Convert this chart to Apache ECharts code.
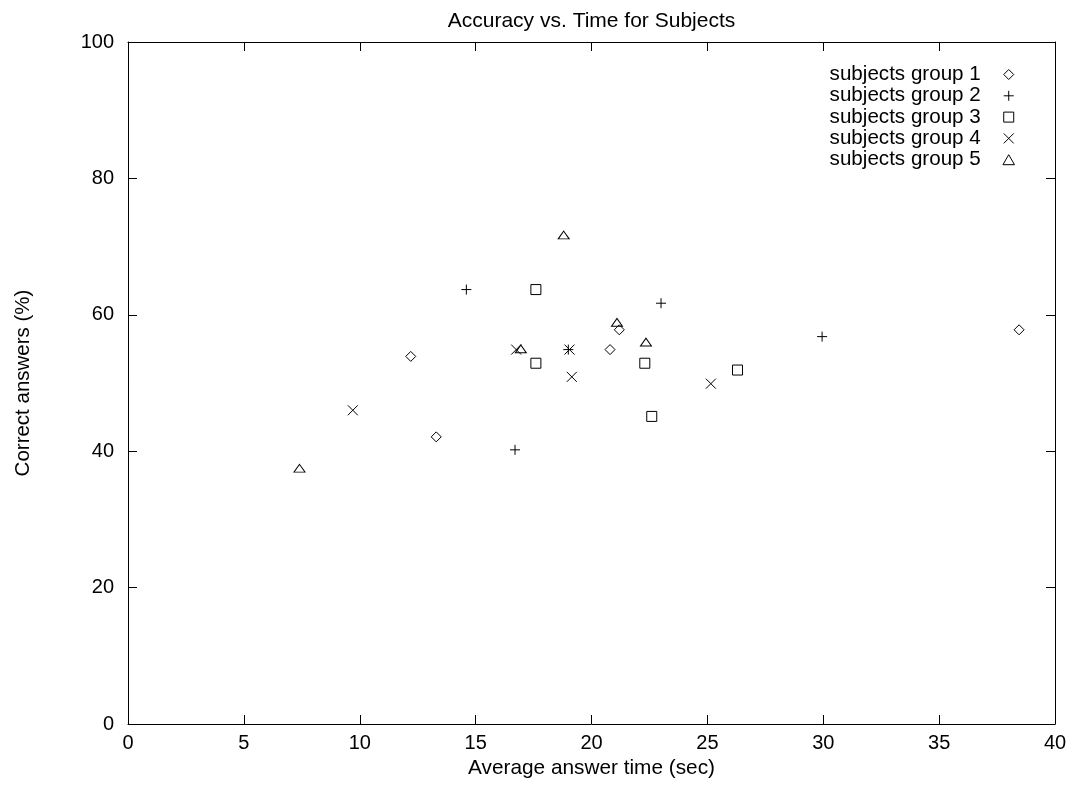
<!DOCTYPE html>
<html>
<head>
<meta charset="utf-8">
<title>Accuracy vs. Time for Subjects</title>
<script src="https://cdn.jsdelivr.net/npm/echarts@6/dist/echarts.min.js"></script>
<style>
  html, body { margin: 0; padding: 0; background: #fff; }
  #container { width: 1075px; height: 785px; }
</style>
</head>
<body>
<div id="container"></div>
<script>
// data
var groupNames = ['subjects group 1', 'subjects group 2', 'subjects group 3', 'subjects group 4', 'subjects group 5'];

var g1Time = [12.2, 13.3, 20.8, 21.2, 38.45];
var g1Acc  = [53.9, 42.1, 54.9, 57.8, 57.8];

var g2Time = [14.6, 16.7, 19.0, 23.0, 29.95];
var g2Acc  = [63.7, 40.2, 54.9, 61.7, 56.8];

var g3Time = [17.6, 17.6, 22.3, 22.6, 26.3];
var g3Acc  = [63.7, 52.9, 52.9, 45.1, 51.9];

var g4Time = [9.7, 16.75, 19.05, 19.15, 25.15];
var g4Acc  = [46.0, 54.9, 54.9, 50.9, 49.9];

var g5Time = [7.4, 16.95, 18.8, 21.1, 22.35];
var g5Acc  = [37.5, 55.0, 71.7, 58.9, 56.0];

var xTicks = [0, 5, 10, 15, 20, 25, 30, 35, 40];
var yTicks = [0, 20, 40, 60, 80, 100];

var FONT = 'Liberation Sans, Arial, Helvetica, sans-serif';

// gnuplot style point types
var symbols = [
	'path://M5,0 L10,5 L5,10 L0,5 Z',
	'path://M0,5 L10,5 M5,0 L5,10',
	'path://M0,0 L10,0 L10,10 L0,10 Z',
	'path://M0,0 L10,10 M10,0 L0,10',
	'path://M5,0 L10,8.66 L0,8.66 Z'
];
var sizes = [[10, 10], [10, 10], [10, 10], [10, 10], [11, 9]];

function zip(xs, ys) {
	var out = [];
	for (var i = 0; i < xs.length; i++) {
		out.push([xs[i], ys[i]]);
	}
	return out;
}

var allData = [zip(g1Time, g1Acc), zip(g2Time, g2Acc), zip(g3Time, g3Acc), zip(g4Time, g4Acc), zip(g5Time, g5Acc)];

var myChart = echarts.init(document.getElementById('container'));

var series = [];
for (var i = 0; i < groupNames.length; i++) {
	series.push({
		name: groupNames[i],
		type: 'scatter',
		xAxisIndex: 0,
		yAxisIndex: 0,
		data: allData[i],
		symbol: symbols[i],
		symbolSize: sizes[i],
		symbolKeepAspect: true,
		itemStyle: {
			color: 'rgba(0,0,0,0)',
			borderColor: '#000',
			borderWidth: 1,
			opacity: 1
		},
		emphasis: { disabled: true }
	});
}

var tickStyle = { show: true, inside: true, length: 9, lineStyle: { color: '#000', width: 1 } };
var lineStyle = { show: true, onZero: false, lineStyle: { color: '#000', width: 1 } };

var option = {
	animation: false,
	backgroundColor: '#fff',
	title: {
		text: 'Accuracy vs. Time for Subjects',
		left: 591.5,
		top: 11,
		padding: 0,
		textAlign: 'center',
		textStyle: { fontFamily: FONT, fontSize: 21, fontWeight: 'normal', color: '#000' }
	},
	legend: {
		orient: 'vertical',
		right: 60,
		top: 64,
		padding: 0,
		align: 'right',
		itemWidth: 46,
		itemHeight: 10,
		itemGap: 0.3,
		selectedMode: false,
		itemStyle: { borderWidth: 1 },
		textStyle: { fontFamily: FONT, fontSize: 20.6, color: '#000', lineHeight: 21 },
		data: groupNames
	},
	grid: {
		left: 128,
		right: 20,
		top: 42,
		bottom: 61,
		containLabel: false,
		outerBoundsMode: 'none'
	},
	xAxis: [{
		type: 'value',
		position: 'bottom',
		min: xTicks[0],
		max: xTicks[xTicks.length - 1],
		interval: 5,
		name: 'Average answer time (sec)',
		nameLocation: 'middle',
		nameGap: 31,
		nameTextStyle: { fontFamily: FONT, fontSize: 20.8, color: '#000' },
		axisLine: lineStyle,
		axisTick: tickStyle,
		axisLabel: { fontFamily: FONT, fontSize: 20, color: '#000', margin: 9 },
		splitLine: { show: false }
	}, {
		type: 'value',
		position: 'top',
		min: xTicks[0],
		max: xTicks[xTicks.length - 1],
		interval: 5,
		axisLine: lineStyle,
		axisTick: tickStyle,
		axisLabel: { show: false },
		splitLine: { show: false }
	}],
	yAxis: [{
		type: 'value',
		position: 'left',
		min: yTicks[0],
		max: yTicks[yTicks.length - 1],
		interval: 20,
		name: 'Correct answers (%)',
		nameLocation: 'middle',
		nameGap: 94,
		nameTextStyle: { fontFamily: FONT, fontSize: 20.5, color: '#000' },
		axisLine: lineStyle,
		axisTick: tickStyle,
		axisLabel: { fontFamily: FONT, fontSize: 20, color: '#000', margin: 14 },
		splitLine: { show: false }
	}, {
		type: 'value',
		position: 'right',
		min: yTicks[0],
		max: yTicks[yTicks.length - 1],
		interval: 20,
		axisLine: lineStyle,
		axisTick: tickStyle,
		axisLabel: { show: false },
		splitLine: { show: false }
	}],
	series: series
};

myChart.setOption(option);
</script>
</body>
</html>
